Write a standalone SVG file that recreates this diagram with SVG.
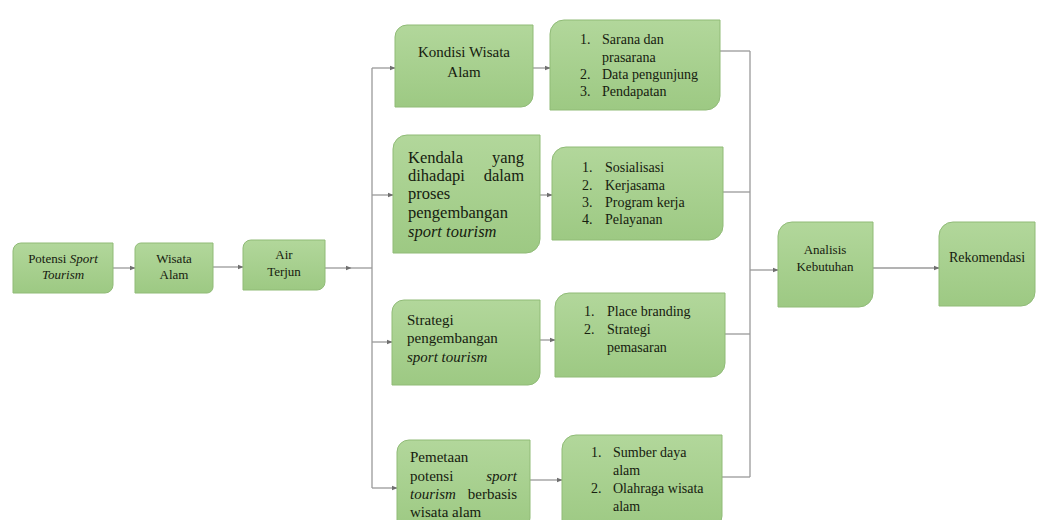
<svg xmlns="http://www.w3.org/2000/svg" width="1040" height="520" viewBox="0 0 1040 520">
<defs>
<linearGradient id="g" x1="0" y1="0" x2="0" y2="1">
<stop offset="0" stop-color="#b2d79b"/>
<stop offset="1" stop-color="#9dc983"/>
</linearGradient>
<marker id="ah" viewBox="0 0 10 10" refX="9" refY="5" markerWidth="6" markerHeight="6" orient="auto" markerUnits="userSpaceOnUse">
<path d="M0,1 L10,5 L0,9 Z" fill="#6f6f6f"/>
</marker>
</defs>
<style>
.box{fill:url(#g);stroke:#90bb77;stroke-width:1}
.t{font-family:"Liberation Serif","Times New Roman",serif;fill:#16200f}
.c{text-anchor:middle}
.e{text-anchor:end}
.i{font-style:italic}
.s13{font-size:13px}
.s14{font-size:14px}
.s15{font-size:15px}
.s17{font-size:16.5px}
.ln{fill:none;stroke:#9a9a9a;stroke-width:1.3}
.ar{marker-end:url(#ah)}
</style>
<rect width="1040" height="520" fill="#ffffff"/>

<g id="connectors">
<line class="ln ar" x1="113" y1="268" x2="135" y2="268"/>
<line class="ln ar" x1="213" y1="267" x2="243" y2="267"/>
<line class="ln ar" x1="325" y1="268" x2="351" y2="268"/>
<line class="ln" x1="350" y1="268" x2="372" y2="268"/>
<line class="ln" x1="372" y1="68" x2="372" y2="488"/>
<line class="ln ar" x1="372" y1="68" x2="395" y2="68"/>
<line class="ln ar" x1="372" y1="195" x2="393" y2="195"/>
<line class="ln ar" x1="372" y1="342" x2="392" y2="342"/>
<line class="ln ar" x1="372" y1="488" x2="397" y2="488"/>
<line class="ln ar" x1="533" y1="68" x2="550" y2="68"/>
<line class="ln ar" x1="540" y1="195" x2="552" y2="195"/>
<line class="ln ar" x1="540" y1="340" x2="555" y2="340"/>
<line class="ln ar" x1="530" y1="480" x2="562" y2="480"/>
<line class="ln" x1="720" y1="51" x2="750" y2="51"/>
<line class="ln" x1="723" y1="192" x2="750" y2="192"/>
<line class="ln" x1="725" y1="334" x2="750" y2="334"/>
<line class="ln" x1="722" y1="477" x2="750" y2="477"/>
<line class="ln" x1="750" y1="51" x2="750" y2="477"/>
<line class="ln ar" x1="750" y1="270" x2="778" y2="270"/>
<line class="ln ar" x1="873" y1="268" x2="939" y2="268"/>
</g>

<g id="potensi">
<path class="box" d="M21,243 H113 V285 A8,8 0 0 1 105,293 H13 V251 A8,8 0 0 1 21,243 Z"/>
<text class="t s13 c" x="63" y="263">Potensi <tspan class="i">Sport</tspan></text>
<text class="t s13 c i" x="63" y="279">Tourism</text>
</g>

<g id="wisata">
<path class="box" d="M141,243 H213 V287 A6,6 0 0 1 207,293 H135 V249 A6,6 0 0 1 141,243 Z"/>
<text class="t s13 c" x="174" y="263">Wisata</text>
<text class="t s13 c" x="174" y="279">Alam</text>
</g>

<g id="air">
<path class="box" d="M251,240 H325 V282 A8,8 0 0 1 317,290 H243 V248 A8,8 0 0 1 251,240 Z"/>
<text class="t s13 c" x="284" y="259">Air</text>
<text class="t s13 c" x="284" y="276">Terjun</text>
</g>

<g id="kondisi">
<path class="box" d="M407,25 H533 V95 A12,12 0 0 1 521,107 H395 V37 A12,12 0 0 1 407,25 Z"/>
<text class="t s15 c" x="464" y="57">Kondisi Wisata</text>
<text class="t s15 c" x="464" y="77">Alam</text>
</g>

<g id="sarana">
<path class="box" d="M564,20 H720 V96 A14,14 0 0 1 706,110 H550 V34 A14,14 0 0 1 564,20 Z"/>
<text class="t s14" x="580" y="44">1.</text>
<text class="t s14" x="602" y="44">Sarana dan</text>
<text class="t s14" x="602" y="62">prasarana</text>
<text class="t s14" x="580" y="79">2.</text>
<text class="t s14" x="602" y="79">Data pengunjung</text>
<text class="t s14" x="580" y="96">3.</text>
<text class="t s14" x="602" y="96">Pendapatan</text>
</g>

<g id="kendala">
<path class="box" d="M407,135 H540 V239 A14,14 0 0 1 526,253 H393 V149 A14,14 0 0 1 407,135 Z"/>
<text class="t s17" x="408" y="163">Kendala</text>
<text class="t s17 e" x="524" y="163">yang</text>
<text class="t s17" x="408" y="181">dihadapi</text>
<text class="t s17 e" x="524" y="181">dalam</text>
<text class="t s17" x="408" y="199">proses</text>
<text class="t s17" x="408" y="218">pengembangan</text>
<text class="t s17 i" x="408" y="237">sport tourism</text>
</g>

<g id="sosialisasi">
<path class="box" d="M566,147 H723 V226 A14,14 0 0 1 709,240 H552 V161 A14,14 0 0 1 566,147 Z"/>
<text class="t s14" x="582" y="172">1.</text>
<text class="t s14" x="605" y="172">Sosialisasi</text>
<text class="t s14" x="582" y="190">2.</text>
<text class="t s14" x="605" y="190">Kerjasama</text>
<text class="t s14" x="582" y="207">3.</text>
<text class="t s14" x="605" y="207">Program kerja</text>
<text class="t s14" x="582" y="224">4.</text>
<text class="t s14" x="605" y="224">Pelayanan</text>
</g>

<g id="strategi">
<path class="box" d="M404,300 H540 V373 A12,12 0 0 1 528,385 H392 V312 A12,12 0 0 1 404,300 Z"/>
<text class="t s15" x="407" y="325">Strategi</text>
<text class="t s15" x="407" y="343">pengembangan</text>
<text class="t s15 i" x="407" y="362">sport tourism</text>
</g>

<g id="place">
<path class="box" d="M569,293 H725 V363 A14,14 0 0 1 711,377 H555 V307 A14,14 0 0 1 569,293 Z"/>
<text class="t s14" x="584" y="316">1.</text>
<text class="t s14" x="607" y="316">Place branding</text>
<text class="t s14" x="584" y="334">2.</text>
<text class="t s14" x="607" y="334">Strategi</text>
<text class="t s14" x="607" y="352">pemasaran</text>
</g>

<g id="pemetaan">
<path class="box" d="M409,440 H530 V518 A12,12 0 0 1 518,530 H397 V452 A12,12 0 0 1 409,440 Z"/>
<text class="t s15" x="410" y="462">Pemetaan</text>
<text class="t s15" x="410" y="481">potensi</text>
<text class="t s15 e i" x="517" y="481">sport</text>
<text class="t s15 i" x="410" y="499">tourism</text>
<text class="t s15 e" x="517" y="499">berbasis</text>
<text class="t s15" x="410" y="517">wisata alam</text>
</g>

<g id="sumber">
<path class="box" d="M576,435 H722 V516 A14,14 0 0 1 708,530 H562 V449 A14,14 0 0 1 576,435 Z"/>
<text class="t s14" x="591" y="457">1.</text>
<text class="t s14" x="613" y="457">Sumber daya</text>
<text class="t s14" x="613" y="475">alam</text>
<text class="t s14" x="591" y="493">2.</text>
<text class="t s14" x="613" y="493">Olahraga wisata</text>
<text class="t s14" x="613" y="511">alam</text>
</g>

<g id="analisis">
<path class="box" d="M792,222 H873 V293 A14,14 0 0 1 859,307 H778 V236 A14,14 0 0 1 792,222 Z"/>
<text class="t s13 c" x="825" y="254">Analisis</text>
<text class="t s13 c" x="825" y="271">Kebutuhan</text>
</g>

<g id="rekomendasi">
<path class="box" d="M953,222 H1035 V292 A14,14 0 0 1 1021,306 H939 V236 A14,14 0 0 1 953,222 Z"/>
<text class="t s14 c" x="987" y="262">Rekomendasi</text>
</g>
</svg>
